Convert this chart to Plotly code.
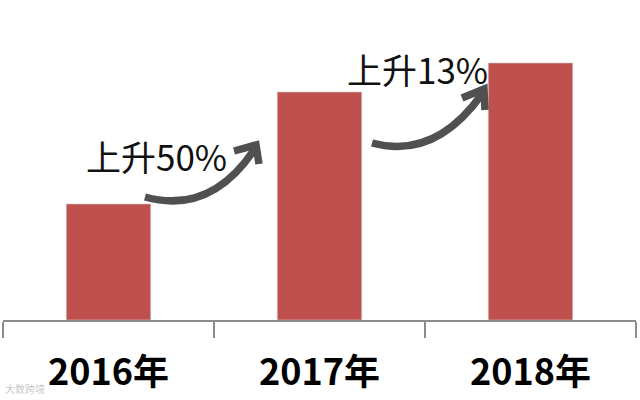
import plotly.graph_objects as go

categories = ["2016年", "2017年", "2018年"]
values = [116, 228, 257]
growth_labels = ["上升50%", "上升13%"]
watermark = "大数跨境"

BAR_COLOR = "#C0504D"
ARROW_COLOR = "#505050"

# plot area in pixels
L, R, T, B = 3, 4, 20, 80
W, H = 640, 400
PW = W - L - R
PH = H - T - B


def px(x):
    return (x - L) / PW


def py(y):
    return (H - B - y) / PH


def arrow_path(p0, p1, p2, tip, a1, a2):
    pts = lambda p: f"{px(p[0]):.5f},{py(p[1]):.5f}"
    return (f"M {pts(p0)} Q {pts(p1)} {pts(p2)} "
            f"M {pts(a1)} L {pts(tip)} L {pts(a2)}")


fig = go.Figure()
fig.add_trace(go.Bar(
    x=categories, y=values,
    marker=dict(color=BAR_COLOR, line=dict(color="rgba(200,200,200,0.6)", width=1)),
    width=0.40,
    hoverinfo="skip",
))

shapes = [
    dict(type="path", xref="paper", yref="paper",
         path=arrow_path((145, 197), (210, 215), (254, 150), (256, 145), (234, 151), (259, 164)),
         line=dict(color=ARROW_COLOR, width=7.5)),
    dict(type="path", xref="paper", yref="paper",
         path=arrow_path((372, 143), (435, 160), (482, 94), (484, 89), (462, 98), (485, 110)),
         line=dict(color=ARROW_COLOR, width=7.5)),
]

annotations = [
    dict(text=growth_labels[0], xref="paper", yref="paper", x=px(156), y=py(155),
         xanchor="center", yanchor="middle",
         showarrow=False, font=dict(family="Noto Sans CJK SC", size=35, color="#111111")),
    dict(text=growth_labels[1], xref="paper", yref="paper", x=px(417), y=py(68),
         xanchor="center", yanchor="middle",
         showarrow=False, font=dict(family="Noto Sans CJK SC", size=35, color="#111111")),
    dict(text=watermark, xref="paper", yref="paper", x=px(3), y=py(388),
         xanchor="left", yanchor="middle",
         showarrow=False, font=dict(family="Noto Sans CJK SC", size=10, color="rgba(190,190,190,0.85)")),
]

fig.update_layout(
    width=W, height=H,
    margin=dict(l=L, r=R, t=T, b=B),
    paper_bgcolor="white", plot_bgcolor="white",
    showlegend=False,
    shapes=shapes,
    annotations=annotations,
    xaxis=dict(
        type="category",
        showline=True, linecolor="#8c8c8c", linewidth=1.5,
        ticks="outside", tickson="boundaries", ticklen=16, tickcolor="#8c8c8c", tickwidth=1.5,
        tickfont=dict(family="Noto Sans CJK SC", size=36, color="black", weight="bold"),
        ticklabelstandoff=20,
        showgrid=False, zeroline=False,
    ),
    yaxis=dict(range=[0, PH], visible=False, showgrid=False, zeroline=False),
)

fig.write_html("out.html", config={"displayModeBar": False},
               post_script="document.body.style.margin='0';")
